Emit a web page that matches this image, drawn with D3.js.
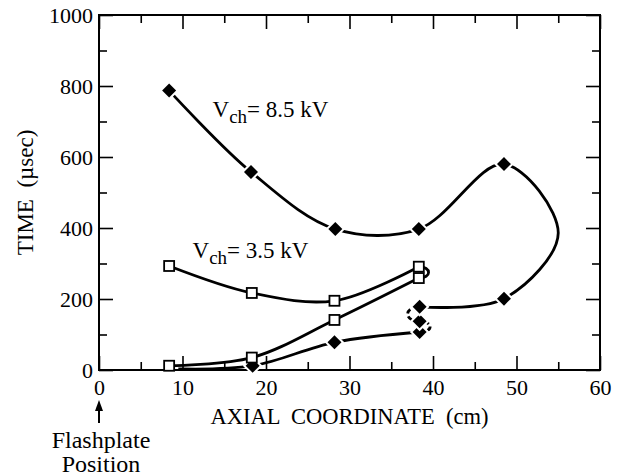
<!DOCTYPE html>
<html>
<head>
<meta charset="utf-8">
<script src="https://cdn.jsdelivr.net/npm/d3@7"></script>
<style>
body{margin:0;background:#fff;}
text{fill:#000;font-family:'Liberation Serif','Times New Roman',serif;}
.axis line{stroke:#000;stroke-width:1.6;}
.axis path{display:none;}
.curve{fill:none;stroke:#000;stroke-width:2.8;}
</style>
</head>
<body>
<svg id="viewer"></svg>
<script>
// axis ticks
var xLabels = [0,10,20,30,40,50,60];
var xMinor  = [5,15,25,35,45,55];
var yLabels = [0,200,400,600,800,1000];
var yMinor  = [100,300,500,700,900];

// V_ch = 8.5 kV, along the trajectory in time order (0 = no marker)
var hiPos  = [9.5, 18.4, 28.2, 38.4, 38.4, 38.4, 48.5, 55.0, 48.5, 38.3, 28.3, 18.2, 8.4];
var hiTime = [3,   12,   78,   107,  137,  178,  201,  386,  580,  397,  397,  558,  787];
var hiMark = [0,   1,    1,    1,    1,    1,    1,    0,    1,    1,    1,    1,    1];

// V_ch = 3.5 kV, along the trajectory in time order
var loPos  = [8.4, 18.3, 28.2, 38.3, 38.3, 28.2, 18.3, 8.4];
var loTime = [12,  35,   141,  259,  291,  195,  217,  293];

var font = "'Liberation Serif', serif";

var viewer = d3.select('#viewer')
  .attr('width',627)
  .attr('height',476);

viewer.append('rect')
  .attr('width',627).attr('height',476).attr('fill','#fff');

var x = d3.scaleLinear().domain([0,60]).range([99,600]);
var y = d3.scaleLinear().domain([0,1000]).range([370,15]);

function pts(xs,ys,a,b)
{
  var out = [];
  for (var i=a;i<=b;i++) out.push([x(xs[i]),y(ys[i])]);
  return out;
}

// axes, ticks pointing inwards
viewer.append('g').attr('class','axis')
  .attr('transform','translate(0,370)')
  .call(d3.axisBottom(x).tickValues(xLabels).tickSize(-14).tickPadding(9).tickSizeOuter(0).tickFormat(d3.format('d')));
viewer.append('g').attr('class','axis')
  .attr('transform','translate(0,370)')
  .call(d3.axisBottom(x).tickValues(xMinor).tickSize(-8).tickFormat('').tickSizeOuter(0));
viewer.append('g').attr('class','axis')
  .attr('transform','translate(0,15)')
  .call(d3.axisTop(x).tickValues(xLabels).tickSize(-14).tickFormat('').tickSizeOuter(0));
viewer.append('g').attr('class','axis')
  .attr('transform','translate(0,15)')
  .call(d3.axisTop(x).tickValues(xMinor).tickSize(-8).tickFormat('').tickSizeOuter(0));

viewer.append('g').attr('class','axis')
  .attr('transform','translate(99,0)')
  .call(d3.axisLeft(y).tickValues(yLabels).tickSize(-14).tickPadding(6).tickSizeOuter(0).tickFormat(d3.format('d')));
viewer.append('g').attr('class','axis')
  .attr('transform','translate(99,0)')
  .call(d3.axisLeft(y).tickValues(yMinor).tickSize(-8).tickFormat('').tickSizeOuter(0));
viewer.append('g').attr('class','axis')
  .attr('transform','translate(600,0)')
  .call(d3.axisRight(y).tickValues(yLabels).tickSize(-14).tickFormat('').tickSizeOuter(0));
viewer.append('g').attr('class','axis')
  .attr('transform','translate(600,0)')
  .call(d3.axisRight(y).tickValues(yMinor).tickSize(-8).tickFormat('').tickSizeOuter(0));

viewer.selectAll('.axis text')
  .attr('fill','#000')
  .attr('font-family',font)
  .attr('font-size',22);

viewer.append('rect')
  .attr('x',x(0)).attr('y',y(1000))
  .attr('width',x(60)-x(0)).attr('height',y(0)-y(1000))
  .attr('fill','none').attr('stroke','#000').attr('stroke-width',2);

// curves
var line = d3.line().curve(d3.curveCatmullRom.alpha(0.5));

function arc(xs,ys,i,bulge,dashed)
{
  var p0 = [x(xs[i]),y(ys[i])], p1 = [x(xs[i+1]),y(ys[i+1])];
  var p = d3.path();
  p.moveTo(p0[0],p0[1]);
  p.bezierCurveTo(p0[0]+bulge,p0[1],p1[0]+bulge,p1[1],p1[0],p1[1]);
  viewer.append('path')
    .attr('class','curve')
    .attr('d',p.toString())
    .attr('stroke-dasharray',dashed?'5,3':null);
}

viewer.append('path').attr('class','curve').attr('d',line(pts(hiPos,hiTime,0,3)));
arc(hiPos,hiTime,3,14,true);
arc(hiPos,hiTime,4,-16,true);
viewer.append('path').attr('class','curve').attr('d',line(pts(hiPos,hiTime,5,12)));

viewer.append('path').attr('class','curve').attr('d',line(pts(loPos,loTime,0,3)));
arc(loPos,loTime,3,13,false);
viewer.append('path').attr('class','curve').attr('d',line(pts(loPos,loTime,4,7)));

// markers
var hiPts = hiPos.map(function(d,i){return {x:d,t:hiTime[i],m:hiMark[i]};})
  .filter(function(d){return d.m;});
viewer.selectAll('.diamond')
  .data(hiPts)
  .enter().append('path')
    .attr('class','diamond')
    .attr('d','M0,-7L7,0L0,7L-7,0Z')
    .attr('transform',function(d){return 'translate('+x(d.x)+','+y(d.t)+')';})
    .attr('fill','#000')
    .attr('stroke','#fff')
    .attr('stroke-width',4)
    .attr('paint-order','stroke');

viewer.selectAll('.square')
  .data(loPos.map(function(d,i){return {x:d,t:loTime[i]};}))
  .enter().append('rect')
    .attr('class','square')
    .attr('x',function(d){return x(d.x)-5;})
    .attr('y',function(d){return y(d.t)-5;})
    .attr('width',10)
    .attr('height',10)
    .attr('fill','#fff')
    .attr('stroke','#000')
    .attr('stroke-width',1.8);

// series labels
function vLabel(px,py,rest)
{
  var t = viewer.append('text')
    .attr('x',x(px)).attr('y',y(py))
    .attr('font-family',font).attr('font-size',23);
  t.append('tspan').text('V');
  t.append('tspan').attr('dy',6).attr('font-size',19).text('ch');
  t.append('tspan').attr('dy',-6).text(rest);
}
vLabel(13.6,713,'= 8.5 kV');
vLabel(11.2,315,'= 3.5 kV');

// axis titles
viewer.append('text')
  .attr('x',(x(0)+x(60))/2).attr('y',424)
  .attr('text-anchor','middle')
  .attr('font-family',font).attr('font-size',22.5)
  .attr('xml:space','preserve')
  .text('AXIAL  COORDINATE  (cm)');

viewer.append('text')
  .attr('transform','translate(33,'+((y(0)+y(1000))/2)+') rotate(-90)')
  .attr('text-anchor','middle')
  .attr('font-family',font).attr('font-size',23)
  .attr('fill','#000')
  .attr('xml:space','preserve')
  .text('TIME  (\u00b5sec)');

// flashplate marker
viewer.append('line')
  .attr('x1',x(0)).attr('x2',x(0))
  .attr('y1',423).attr('y2',408)
  .attr('stroke','#000').attr('stroke-width',2);
viewer.append('path')
  .attr('d','M'+x(0)+',400L'+(x(0)+4)+',411L'+(x(0)-4)+',411Z')
  .attr('fill','#000');

viewer.append('text')
  .attr('x',101).attr('y',448)
  .attr('text-anchor','middle')
  .attr('font-family',font).attr('font-size',24)
  .text('Flashplate');
viewer.append('text')
  .attr('x',101).attr('y',472)
  .attr('text-anchor','middle')
  .attr('font-family',font).attr('font-size',24)
  .text('Position');
</script>
</body>
</html>
